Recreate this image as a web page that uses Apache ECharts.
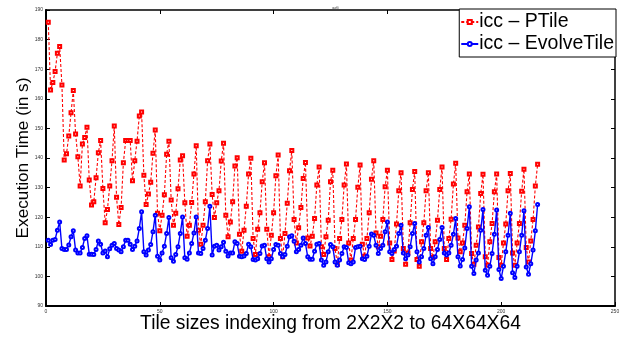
<!DOCTYPE html>
<html>
<head>
<meta charset="utf-8">
<script src="https://cdn.jsdelivr.net/npm/echarts@6/dist/echarts.min.js"></script>
<style>
html,body{margin:0;padding:0;background:#fff;}
#c{width:630px;height:337px;}
</style>
</head>
<body>
<div id="c"></div>
<script>
var chartTitle = "adi";
var xAxisTitle = "Tile sizes indexing from 2X2X2 to 64X64X64";
var yAxisTitle = "Execution Time (in s)";
var seriesNames = ["icc \u2013 PTile", "icc \u2013 EvolveTile"];
var xTicks = [0, 50, 100, 150, 200, 250];
var yTicks = [90, 100, 110, 120, 130, 140, 150, 160, 170, 180, 190];

var ptile = [
185.9,163.0,165.5,169.2,175.4,177.7,164.7,139.3,141.4,147.4,155.3,162.8,148.1,140.4,130.5,144.7,146.9,150.4,132.6,124.1,125.2,133.3,141.8,145.9,129.7,118.1,122.6,130.5,139.1,150.8,
126.7,117.5,123.3,138.4,145.9,145.9,145.9,132.3,139.1,145.7,154.2,155.5,134.2,124.3,127.8,131.8,141.6,149.5,121.3,115.4,120.7,127.6,141.3,145.7,125.8,117.3,121.3,129.6,139.3,140.8,124.9,113.6,117.3,125.0,
134.6,144.1,115.6,110.9,117.3,125.2,139.1,144.7,127.7,119.9,124.9,128.9,139.0,145.0,120.7,113.4,118.4,125.2,137.3,140.1,114.2,108.5,115.6,123.7,134.6,139.9,112.8,107.4,115.9,121.5,132.0,138.4,115.9,106.6,113.9,
121.5,134.0,141.0,112.8,106.6,114.5,124.7,135.7,142.5,119.2,111.3,116.4,123.3,133.1,138.5,113.0,110.3,113.6,119.6,130.9,137.0,110.0,107.4,113.4,119.0,132.0,135.9,109.4,104.0,112.8,119.2,130.9,138.0,111.3,105.5,
112.8,119.2,130.1,137.6,110.9,106.8,112.8,121.5,132.8,139.1,114.7,110.0,113.6,119.2,130.3,135.9,111.3,105.7,108.6,117.7,128.9,135.0,109.4,104.1,107.9,118.1,129.4,135.4,105.7,103.4,111.7,118.1,128.9,135.0,
109.4,106.4,111.7,119.0,129.4,137.0,109.4,105.7,112.8,119.3,131.2,138.2,113.0,108.3,111.3,117.3,128.6,134.6,107.7,104.1,110.5,116.7,128.0,134.5,106.6,103.8,111.7,117.9,128.6,134.6,106.4,103.8,111.3,117.7,128.9,134.8,
107.9,103.8,111.3,117.9,128.8,136.2,109.8,104.9,112.0,119.2,130.5,137.9
];

var evolve = [
112.2,110.8,112.2,112.5,115.6,118.4,109.4,109.1,109.1,110.6,113.4,115.4,108.9,107.9,107.9,109.8,112.8,113.7,107.5,107.5,107.4,109.1,112.0,110.9,107.9,108.6,106.6,109.3,110.5,111.1,
109.4,108.9,108.3,110.0,112.2,112.2,110.9,109.1,110.2,112.0,116.2,121.8,108.3,107.2,108.9,110.8,115.1,120.7,106.8,105.5,107.9,110.2,114.5,119.9,106.3,105.1,107.4,110.0,114.5,120.1,106.3,105.8,107.9,111.1,
114.7,120.1,107.9,107.7,109.4,112.2,116.2,123.7,107.2,110.2,110.5,108.9,110.0,111.5,108.5,106.9,107.9,107.9,111.7,111.1,106.8,106.6,106.9,107.7,110.9,110.0,105.7,105.5,106.0,107.7,110.3,110.5,106.0,104.9,106.0,
109.1,110.8,110.5,107.7,106.6,107.4,110.2,113.4,113.7,111.9,108.3,109.1,110.5,113.0,111.1,106.6,105.8,105.8,108.5,110.9,111.1,105.5,103.8,104.9,108.3,110.8,110.0,104.9,103.8,105.5,107.7,110.0,109.8,104.6,104.3,
104.9,109.8,110.0,110.2,106.0,105.7,106.8,110.2,114.3,113.9,110.5,107.7,109.4,110.5,115.1,118.4,108.3,107.7,109.1,110.2,114.5,117.3,107.9,106.0,107.2,110.0,114.5,117.9,108.3,104.9,106.6,109.4,113.9,116.5,
106.0,104.3,106.6,109.1,112.5,116.5,107.9,107.2,107.9,110.5,114.2,119.6,106.6,103.5,105.7,109.6,116.2,123.5,103.4,101.0,105.5,107.9,115.6,122.6,102.1,100.4,103.4,107.7,114.2,122.4,102.3,99.3,103.4,108.3,113.9,121.3,
101.2,99.6,103.4,108.3,113.9,122.2,103.2,100.7,104.3,108.9,115.4,124.3
];

function pairs(arr){ return arr.map(function(v,i){ return [i+1, v]; }); }

var FONT = "'Liberation Sans', Arial, sans-serif";
var chart = echarts.init(document.getElementById('c'), null, {renderer:'canvas'});
var tickLabel = {fontSize:5, color:'#333', fontFamily:FONT, margin:3};
var option = {
  animation:false,
  backgroundColor:'#ffffff',
  title:{text:chartTitle, left:327, top:1, textStyle:{fontSize:5, fontWeight:'normal', color:'#444', fontFamily:FONT}},
  grid:{left:46, right:15, top:10, bottom:31, containLabel:false, outerBoundsMode:'none'},
  legend:{
    orient:'vertical', right:14, top:9,
    backgroundColor:'#fff',
    borderColor:'#000', borderWidth:1,
    padding:[3,2,3,1],
    itemWidth:17, itemHeight:5, itemGap:2,
    textStyle:{fontSize:19.5, color:'#000', fontFamily:FONT, padding:[0,0,0,-4]},
    data:seriesNames
  },
  xAxis:[{
    type:'value', min:xTicks[0], max:xTicks[xTicks.length-1], interval:50,
    name:xAxisTitle, nameLocation:'middle', nameGap:8, nameMoveOverlap:false,
    nameTextStyle:{fontSize:19.3, color:'#000', fontFamily:FONT},
    axisLine:{show:true, onZero:false, lineStyle:{color:'#000', width:2}},
    axisTick:{show:true, inside:true, length:4, lineStyle:{color:'#000', width:1}},
    axisLabel:tickLabel,
    splitLine:{show:false}
  },{
    type:'value', position:'top', min:0, max:250, interval:50,
    axisLine:{show:true, onZero:false, lineStyle:{color:'#000', width:1.5}},
    axisTick:{show:true, inside:true, length:4, lineStyle:{color:'#000', width:1}},
    axisLabel:{show:false}, splitLine:{show:false}
  }],
  yAxis:[{
    type:'value', min:yTicks[0], max:yTicks[yTicks.length-1], interval:10,
    name:yAxisTitle, nameLocation:'middle', nameGap:14, nameMoveOverlap:false,
    nameTextStyle:{fontSize:17.2, color:'#000', fontFamily:FONT},
    axisLine:{show:true, onZero:false, lineStyle:{color:'#000', width:2}},
    axisTick:{show:true, inside:true, length:4, lineStyle:{color:'#000', width:1}},
    axisLabel:tickLabel,
    splitLine:{show:false}
  },{
    type:'value', position:'right', min:90, max:190, interval:10,
    axisLine:{show:true, onZero:false, lineStyle:{color:'#000', width:1.5}},
    axisTick:{show:true, inside:true, length:4, lineStyle:{color:'#000', width:1}},
    axisLabel:{show:false}, splitLine:{show:false}
  }],
  series:[{
    name:seriesNames[0], type:'line', data:pairs(ptile),
    symbol:'emptyRect', symbolSize:3, showAllSymbol:true,
    itemStyle:{color:'#ff0000', borderWidth:0.9},
    lineStyle:{color:'#ff0000', width:1.1, type:[3,2]},
    z:2
  },{
    name:seriesNames[1], type:'line', data:pairs(evolve),
    symbol:'emptyCircle', symbolSize:3, showAllSymbol:true,
    itemStyle:{color:'#0000ff', borderWidth:0.9},
    lineStyle:{color:'#0000ff', width:1.4},
    z:3
  }]
};
chart.setOption(option);
</script>
</body>
</html>
